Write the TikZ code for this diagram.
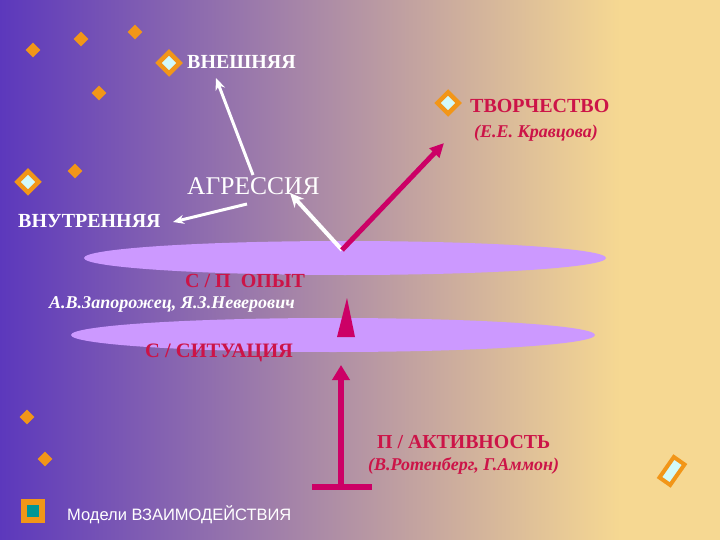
\documentclass[tikz,border=0pt]{standalone}
\usepackage{fontspec}
\setmainfont{Liberation Serif}
\newfontfamily\arialfont{Liberation Sans}
\usetikzlibrary{shapes.geometric}
\usetikzlibrary{arrows.meta}
\usetikzlibrary{positioning}
\usetikzlibrary{calc}

\definecolor{bgl}{RGB}{92,56,188}
\definecolor{bgm}{RGB}{178,148,172}
\definecolor{bgr}{RGB}{246,216,146}
\definecolor{lav}{RGB}{204,153,255}
\definecolor{crim}{RGB}{204,0,102}
\definecolor{txtcrim}{RGB}{204,20,72}
\definecolor{orng}{RGB}{242,150,24}
\definecolor{pale}{RGB}{210,250,250}
\definecolor{tealbox}{RGB}{0,150,150}

\tikzset{
  smalldia/.style={diamond, aspect=1, fill=orng, inner sep=0pt, minimum size=15pt},
  bigdia/.style={diamond, aspect=1, fill=pale, draw=orng, line width=4.5pt, inner sep=0pt, minimum size=23pt},
  whitetxt/.style={anchor=base west, text=white, inner sep=0pt},
  crimtxt/.style={anchor=base west, text=txtcrim, inner sep=0pt}
}

\begin{document}
\begin{tikzpicture}[x=1pt,y=-1pt]
\useasboundingbox (0,0) rectangle (720,540);
% background
\shade[left color=bgl, middle color=bgm, right color=bgr] (0,0) rectangle (620,540);
\fill[bgr] (619,0) rectangle (720,540);

% discs
\fill[lav] (345,258) ellipse (261 and 17);
\fill[lav] (333,335) ellipse (262 and 17);

% markers
\node[smalldia] (m1) at (33,50) {};
\node[smalldia] (m2) at (81,39) {};
\node[smalldia] (m3) at (135,32) {};
\node[smalldia] (m4) at (99,93) {};
\node[smalldia] (m5) at (75,171) {};
\node[smalldia] (m6) at (27,417) {};
\node[smalldia] (m7) at (45,459) {};
\node[bigdia] (bvnesh) at (169,63) {};
\node[bigdia] (bvnutr) at (28,182) {};
\node[bigdia] (btvor) at (448,103) {};
\node[rectangle, fill=pale, draw=orng, line width=4pt, minimum width=25pt, minimum height=13pt, inner sep=0pt, rotate=55] (bcorner) at (672,471) {};
\node[rectangle, fill=tealbox, draw=orng, line width=6pt, minimum size=18pt, inner sep=0pt] (model) at (33,511) {};

% labels
\node[whitetxt, font=\bfseries\fontsize{20}{20}\selectfont] (vnesh) at (187,69) {ВНЕШНЯЯ};
\node[crimtxt, font=\bfseries\fontsize{20}{20}\selectfont] (tvor) at (470,113) {ТВОРЧЕСТВО};
\node[crimtxt, font=\bfseries\itshape\fontsize{18}{18}\selectfont] (kravc) at (474,138) {(Е.Е. Кравцова)};
\node[whitetxt, font=\fontsize{25.5}{25.5}\selectfont] (agr) at (187,195) {АГРЕССИЯ};
\node[whitetxt, font=\bfseries\fontsize{20}{20}\selectfont] (vnutr) at (18,227) {ВНУТРЕННЯЯ};
\node[crimtxt, font=\bfseries\fontsize{20}{20}\selectfont] (opyt) at (185,287) {С / П\ \ ОПЫТ};
\node[whitetxt, font=\bfseries\itshape\fontsize{18}{18}\selectfont] (zapor) at (49,308) {А.В.Запорожец, Я.З.Неверович};
\node[crimtxt, font=\bfseries\fontsize{20.5}{20.5}\selectfont] (sit) at (145,357) {С / СИТУАЦИЯ};
\node[crimtxt, font=\bfseries\fontsize{19.8}{19.8}\selectfont] (aktiv) at (377,448) {П / АКТИВНОСТЬ};
\node[crimtxt, font=\bfseries\itshape\fontsize{18}{18}\selectfont] (roten) at (368,470) {(В.Ротенберг, Г.Аммон)};
\node[whitetxt, font=\arialfont\fontsize{16.5}{16.5}\selectfont] (modtxt) at (67,520) {Модели ВЗАИМОДЕЙСТВИЯ};

% arrows
\coordinate (vtx) at (342,250);
\coordinate (agrtop) at (253,175);
\coordinate (agrleft) at (247,204);
\coordinate (vneshend) at (216,78);
\coordinate (vnutrend) at (173,222);
\coordinate (agrend) at (290,193);
\coordinate (tvorend) at (444,143);
\coordinate (barmid) at (341,487);
\coordinate (barl) at (312,487);
\coordinate (barr) at (372,487);
\coordinate (sitend) at (341,365);

\draw[white, line width=3pt, -{Stealth[length=12pt,width=10pt]}] (agrtop) -- (vneshend);
\draw[white, line width=3pt, -{Stealth[length=11pt,width=9pt]}] (agrleft) -- (vnutrend);
\draw[white, line width=4pt, -{Stealth[length=14pt,width=13pt]}] (vtx) -- (agrend);
\draw[crim, line width=5pt, -{Triangle[length=14pt,width=13pt]}] (vtx) -- (tvorend);

\fill[crim] (347,298) -- (337,337) -- (355,337) -- cycle;

\draw[crim, line width=6pt, -{Triangle[length=15pt,width=17pt]}] (barmid) -- (sitend);
\draw[crim, line width=6pt] (barl) -- (barr);
\end{tikzpicture}
\end{document}
